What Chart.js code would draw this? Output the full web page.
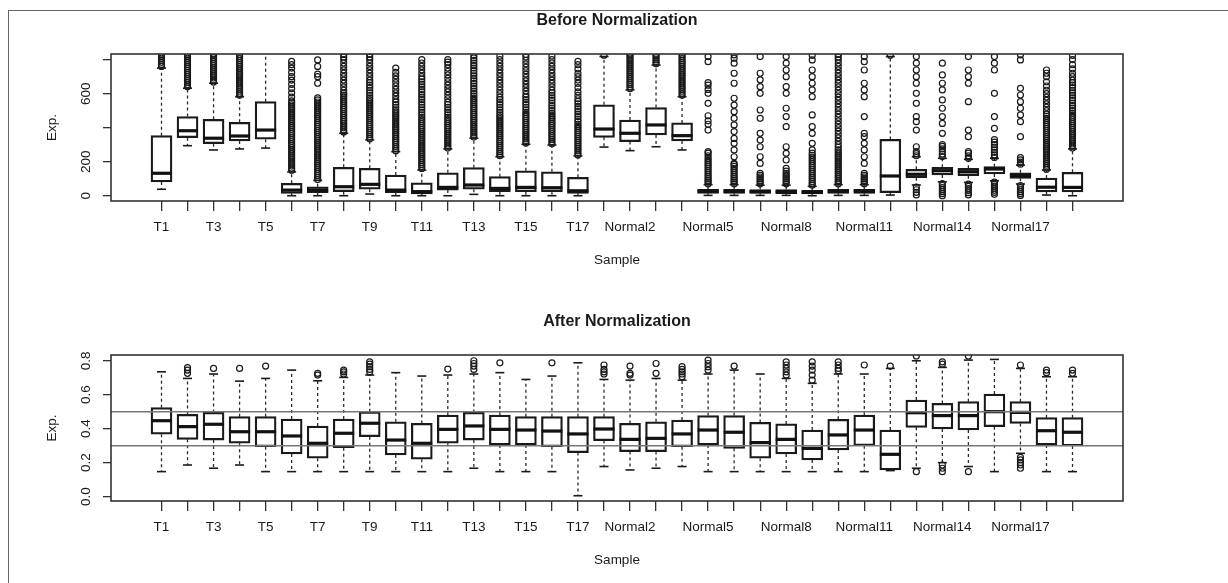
<!DOCTYPE html>
<html>
<head>
<meta charset="utf-8">
<script src="https://cdn.jsdelivr.net/npm/chart.js@4.4.1/dist/chart.umd.min.js"></script>
<style>
  body { margin: 0; background: #fff; }
  #wrap { position: relative; width: 1228px; height: 583px; overflow: hidden; }
  #frame { position: absolute; left: 8px; top: 10px; right: -2px; bottom: -2px; border-left: 1px solid #666; border-top: 1px solid #666; }
  canvas { position: absolute; left: 0; }
  #before { top: 0; }
  #after { top: 290px; }
</style>
</head>
<body>
<div id="wrap">
  <div id="frame"></div>
  <canvas id="before" width="1228" height="290"></canvas>
  <canvas id="after" width="1228" height="293"></canvas>
</div>
<script>
const samples = ['T1','T2','T3','T4','T5','T6','T7','T8','T9','T10','T11','T12','T13','T14','T15','T16','T17',
  'Normal1','Normal2','Normal3','Normal4','Normal5','Normal6','Normal7','Normal8','Normal9','Normal10',
  'Normal11','Normal12','Normal13','Normal14','Normal15','Normal16','Normal17','Normal18','Normal19'];
const shownLabels = ['T1','T3','T5','T7','T9','T11','T13','T15','T17','Normal2','Normal5','Normal8','Normal11','Normal14','Normal17'];

// Before normalization
const rawLow    = [38,294,269,275,280,0,0,0,10,0,0,0,8,0,0,0,0, 286,265,288,269,2,2,2,2,0,2,2,4,63,82,78,88,69,4,0];
const rawQ1     = [81,341,306,322,332,14,18,24,38,18,10,33,38,24,24,24,14, 343,318,357,322,14,14,14,12,10,14,14,18,106,122,118,128,102,23,23];
const rawMedian = [132,382,338,351,386,33,33,53,67,33,24,49,63,43,49,47,29, 392,367,416,353,26,26,24,24,20,26,26,116,126,147,141,157,118,50,49];
const rawQ3     = [353,465,449,432,553,73,53,167,161,122,76,135,165,112,147,141,108, 534,445,518,428,38,38,36,36,32,38,38,331,155,167,161,171,135,104,138];
const rawHigh   = [750,632,661,582,850,140,90,367,328,259,151,275,338,229,302,298,234, 818,622,768,582,65,65,62,62,55,65,65,818,229,220,214,220,180,151,275];
const rawOutliers = [
  [760,772,784,796,808,820,832],
  [640,652,664,676,688,700,712,724,736,748,760,772,784,796,808,820,832],
  [668,680,692,704,716,728,740,752,764,776,788,800,812,824,832],
  [590,602,614,626,638,650,662,674,686,698,710,722,734,746,758,770,782,794,806,818,830],
  [],
  [150,162,174,186,198,210,222,234,246,258,270,282,294,306,318,330,342,354,366,378,390,402,414,426,438,450,462,474,486,498,510,522,534,546,558,580,605,630,655,680,700,725,750,770,790],
  [95,107,119,131,143,155,167,179,191,203,215,227,239,251,263,275,287,299,311,323,335,347,359,371,383,395,407,419,431,443,455,467,479,491,503,515,527,539,551,563,575,661,700,715,760,798],
  [375,387,399,411,423,435,447,459,471,483,495,507,519,531,543,555,567,579,591,603,620,640,660,680,700,720,740,760,780,800,815,830],
  [335,347,359,371,383,395,407,419,431,443,455,467,479,491,503,515,527,539,551,563,575,590,605,620,635,650,665,680,700,720,740,760,780,800,815,830],
  [265,277,289,301,313,325,337,349,361,373,385,397,409,421,433,445,457,469,481,493,505,520,535,550,565,585,605,625,645,665,685,705,725,750],
  [160,172,184,196,208,220,232,244,256,268,280,292,304,316,328,340,352,364,376,388,400,412,424,436,448,460,475,490,505,520,535,550,565,580,595,610,625,640,655,670,685,700,720,740,760,780,800],
  [280,292,304,316,328,340,352,364,376,388,400,412,424,436,448,460,475,490,505,520,535,550,570,590,610,630,650,670,690,710,730,750,770,785,800],
  [345,357,369,381,393,405,417,429,441,453,465,477,489,501,513,525,537,549,561,573,585,600,615,630,645,660,675,690,705,720,735,750,765,780,795,810,825],
  [235,247,259,271,283,295,307,319,331,343,355,367,379,391,403,415,427,439,451,463,475,490,505,520,535,550,565,580,600,620,640,660,680,700,720,740,760,780,800,820],
  [310,322,334,346,358,370,382,394,406,418,430,442,454,466,478,490,505,520,535,550,565,580,595,615,635,655,675,695,715,735,755,775,795,815,830],
  [305,317,329,341,353,365,377,389,401,413,425,437,449,461,473,485,500,515,530,545,560,575,590,605,620,640,660,680,700,720,740,760,780,800,820],
  [240,252,264,276,288,300,312,324,336,348,360,372,384,396,408,420,435,450,465,480,495,510,525,540,555,570,590,610,635,660,680,700,720,745,770,790],
  [826],
  [630,642,654,666,678,690,702,714,726,738,750,762,774,786,798,810,822,832],
  [775,787,799,811,823,832],
  [590,602,614,626,638,650,662,674,686,698,710,722,734,746,758,770,782,794,806,818,830],
  [70,80,90,100,112,124,136,148,160,172,184,196,208,220,235,250,259,386,420,440,470,543,602,625,650,665,788,818],
  [70,80,90,100,112,124,136,148,160,172,184,190,229,269,308,337,377,416,455,494,533,573,661,720,779,808,828],
  [70,80,90,100,110,120,131,190,229,288,327,367,455,504,602,641,681,720,818],
  [70,80,90,100,110,120,131,145,161,210,249,288,406,465,514,602,641,700,739,779,818],
  [62,72,82,94,106,118,130,142,154,166,178,190,202,214,226,238,250,269,308,367,406,475,582,622,661,700,739,798,825],
  [70,80,90,102,114,126,138,150,162,174,186,198,210,222,234,246,258,270,285,300,320,340,360,380,400,420,440,460,480,500,520,540,560,580,600,620,640,660,680,700,720,740,760,780,800,815,830],
  [70,80,90,100,110,120,131,190,229,269,308,347,367,465,582,622,661,739,788,818],
  [826],
  [50,35,20,5,235,248,260,288,386,435,465,543,602,661,700,739,779,818],
  [72,60,48,36,24,12,0,230,245,260,275,290,300,367,425,465,514,563,622,661,710,779],
  [68,55,42,30,18,5,220,235,250,260,347,386,553,661,700,739,818],
  [80,68,56,44,32,20,8,225,240,255,270,285,300,315,330,396,465,602,739,779,818],
  [60,48,36,24,12,2,185,198,211,224,347,435,475,514,553,592,631,798,828],
  [155,167,179,191,203,215,227,239,251,263,275,287,299,311,323,335,347,359,371,383,395,407,419,431,443,455,467,480,500,520,540,560,580,600,620,645,670,700,720,739],
  [280,292,304,316,328,340,352,364,376,388,400,412,424,436,448,460,472,485,500,515,530,545,560,575,590,605,620,635,650,665,680,700,720,745,770,800,825]
];
const rawYTicks  = [0, 200, 400, 600, 800];
const rawYLabels = ['0', '200', '', '600', ''];

// After normalization
const normLow    = [.147,.186,.167,.186,.147,.147,.147,.147,.147,.147,.147,.147,.167,.147,.147,.147,.005, .177,.157,.167,.177,.147,.147,.147,.147,.147,.147,.147,.153,.167,.200,.177,.147,.255,.147,.147];
const normQ1     = [.367,.337,.333,.314,.294,.251,.226,.288,.353,.245,.220,.314,.333,.304,.304,.294,.259, .330,.265,.265,.294,.304,.284,.226,.251,.216,.275,.300,.157,.408,.398,.392,.412,.431,.304,.298];
const normMedian = [.447,.412,.426,.382,.382,.357,.314,.373,.432,.333,.314,.396,.416,.396,.392,.386,.369, .398,.337,.343,.369,.392,.379,.318,.337,.284,.363,.392,.249,.494,.477,.477,.500,.496,.388,.379];
const normQ3     = [.524,.484,.496,.471,.471,.457,.416,.457,.500,.441,.431,.480,.496,.480,.471,.471,.471, .471,.431,.441,.451,.477,.477,.437,.428,.392,.455,.480,.392,.569,.549,.559,.604,.559,.465,.465];
const normHigh   = [.735,.696,.722,.680,.696,.745,.682,.702,.716,.730,.710,.716,.722,.730,.690,.710,.788, .690,.686,.696,.686,.722,.745,.722,.696,.667,.722,.722,.755,.800,.761,.804,.808,.755,.706,.706];
const normOutliers = [
  [], [.726,.745,.76], [.755], [.755], [.769], [], [.716,.726], [.722,.735,.745],
  [.735,.749,.765,.78,.794], [], [], [.751], [.749,.769,.784,.8], [.788], [], [.788], [],
  [.722,.735,.749,.775], [.716,.726,.769], [.726,.784], [.706,.722,.735,.749,.765],
  [.745,.765,.784,.804], [.769], [], [.716,.735,.755,.775,.794], [.686,.716,.745,.769,.794],
  [.741,.755,.775,.794], [.775], [.769], [.828,.147], [.78,.794,.147,.167,.186],
  [.828,.147], [], [.775,.167,.186,.2,.216,.231], [.73,.745], [.726,.745]
];
const normYTicks  = [0, 0.2, 0.4, 0.6, 0.8];
const normYLabels = ['0.0', '0.2', '0.4', '0.6', '0.8'];
const refLines = [0.3, 0.5];

const xMin = -0.94, xMax = 37.94;
const ink = '#1a1a1a';
Chart.defaults.font.family = '"Liberation Sans", Arial, sans-serif';
Chart.defaults.font.size = 13.5;
Chart.defaults.color = ink;

const panelText = {
  id: 'panelText',
  afterDraw(chart, args, o) {
    const { ctx, chartArea: a } = chart;
    const y = chart.scales.y;
    const cx = (a.left + a.right) / 2;
    ctx.save();
    ctx.fillStyle = ink;
    ctx.textAlign = 'center';
    ctx.textBaseline = 'middle';
    ctx.font = 'bold 16px "Liberation Sans", Arial, sans-serif';
    ctx.fillText(o.title, cx, a.top - 33);
    ctx.font = '13.5px "Liberation Sans", Arial, sans-serif';
    ctx.fillText('Sample', cx, a.bottom + 59);
    const vtext = (t, x, yy) => {
      ctx.save();
      ctx.translate(x, yy);
      ctx.rotate(-Math.PI / 2);
      ctx.fillText(t, 0, 0);
      ctx.restore();
    };
    vtext('Exp.', 52, (a.top + a.bottom) / 2);
    o.yTicks.forEach((v, i) => {
      if (o.yLabels[i]) vtext(o.yLabels[i], 86, y.getPixelForValue(v));
    });
    ctx.strokeStyle = '#333';
    ctx.lineWidth = 1.6;
    ctx.strokeRect(a.left, a.top, a.right - a.left, a.bottom - a.top);
    ctx.restore();
  }
};

function boxPanel(id, st) {
  const xs = samples.map((_, i) => i + 1);
  const whiskers = [];
  const caps = [];
  const outliers = [];
  xs.forEach((x, i) => {
    whiskers.push({ x, y: st.q3[i] }, { x, y: st.high[i] }, { x, y: null },
                  { x, y: st.q1[i] }, { x, y: st.low[i] }, { x, y: null });
    caps.push({ x, y: st.low[i] }, { x, y: st.high[i] });
    st.outliers[i].forEach(v => outliers.push({ x, y: v }));
  });
  const refs = [];
  (st.refs || []).forEach(v => refs.push({ x: xMin, y: v }, { x: xMax, y: v }, { x: xMax, y: null }));

  new Chart(document.getElementById(id), {
    type: 'bar',
    data: {
      datasets: [
        {
          type: 'bar',
          data: xs.map((x, i) => ({ x, y: [st.q1[i], st.q3[i]] })),
          backgroundColor: 'rgba(0,0,0,0)',
          borderColor: ink,
          borderWidth: 1.6,
          borderSkipped: false,
          barThickness: 21,
          order: 5
        },
        {
          type: 'line',
          data: whiskers,
          borderColor: '#2a2a2a',
          borderWidth: 1.3,
          borderDash: [3, 3],
          pointRadius: 0,
          spanGaps: false,
          tension: 0,
          order: 6
        },
        {
          type: 'scatter',
          data: xs.map((x, i) => ({ x, y: st.median[i] })),
          pointStyle: 'line',
          pointRadius: 10.5,
          pointBorderWidth: 3.2,
          pointBorderColor: '#111',
          order: 1
        },
        {
          type: 'scatter',
          data: caps,
          pointStyle: 'line',
          pointRadius: 4.5,
          pointBorderWidth: 1.6,
          pointBorderColor: ink,
          order: 2
        },
        {
          type: 'scatter',
          data: outliers,
          pointStyle: 'circle',
          pointRadius: 3,
          pointBorderWidth: 1.2,
          pointBorderColor: ink,
          pointBackgroundColor: 'rgba(0,0,0,0)',
          order: 3
        },
        {
          type: 'line',
          data: refs,
          borderColor: '#777',
          borderWidth: 1.5,
          pointRadius: 0,
          spanGaps: false,
          order: 0
        }
      ]
    },
    options: {
      responsive: false,
      animation: false,
      events: [],
      devicePixelRatio: 1,
      layout: { padding: { left: 91, right: 105, top: st.top, bottom: 0 } },
      plugins: {
        legend: { display: false },
        tooltip: { enabled: false },
        panelText: { title: st.title, yTicks: st.yTicks, yLabels: st.yLabels }
      },
      scales: {
        x: {
          type: 'linear',
          min: xMin,
          max: xMax,
          offset: false,
          afterBuildTicks: s => { s.ticks = xs.map(v => ({ value: v })); },
          afterFit: s => { s.height = st.xHeight; },
          grid: { drawOnChartArea: false, drawTicks: true, tickLength: 10, color: '#333', lineWidth: 1.3, offset: false },
          border: { display: false },
          ticks: {
            autoSkip: false,
            maxRotation: 0,
            minRotation: 0,
            padding: 8,
            color: ink,
            callback: v => shownLabels.includes(samples[v - 1]) ? samples[v - 1] : ''
          }
        },
        y: {
          type: 'linear',
          min: st.yMin,
          max: st.yMax,
          afterBuildTicks: s => { s.ticks = st.yTicks.map(v => ({ value: v })); },
          afterFit: s => { s.width = 20; },
          grid: { drawOnChartArea: false, drawTicks: true, tickLength: 8, color: '#333', lineWidth: 1.3 },
          border: { display: false },
          ticks: { display: false }
        }
      }
    },
    plugins: [panelText]
  });
}

boxPanel('before', {
  title: 'Before Normalization',
  low: rawLow, q1: rawQ1, median: rawMedian, q3: rawQ3, high: rawHigh, outliers: rawOutliers,
  yMin: -31, yMax: 833, yTicks: rawYTicks, yLabels: rawYLabels,
  top: 54, xHeight: 89
});

boxPanel('after', {
  title: 'After Normalization',
  low: normLow, q1: normQ1, median: normMedian, q3: normQ3, high: normHigh, outliers: normOutliers,
  refs: refLines,
  yMin: -0.026, yMax: 0.834, yTicks: normYTicks, yLabels: normYLabels,
  top: 65, xHeight: 82
});
</script>
</body>
</html>
